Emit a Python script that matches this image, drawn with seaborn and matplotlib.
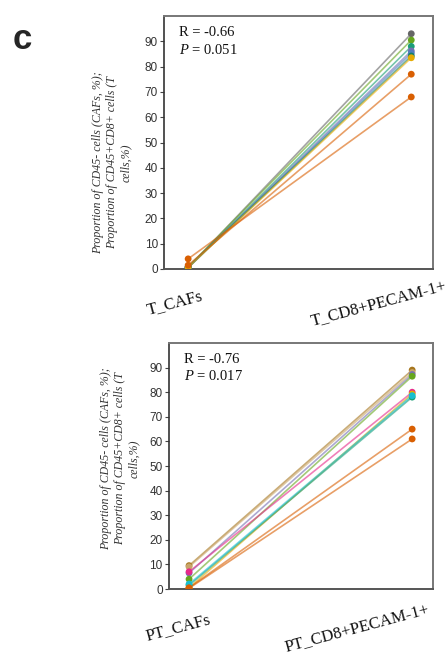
import matplotlib
matplotlib.use("Agg")
import matplotlib.pyplot as plt
import matplotlib.transforms as mtransforms
import seaborn as sns
import pandas as pd

# ---------------- data ----------------
top_groups = ["T_CAFs", "T_CD8+PECAM-1+"]
top_caf = [0.5, 0.8, 0.5, 0.6, 0.5, 0.8, 0.6, 1.5, 4.0]
top_cd8 = [93.0, 90.5, 88.0, 86.2, 85.3, 84.2, 83.5, 77.0, 68.0]
top_colors = ["#666666", "#66a61e", "#1b9e77", "#7570b3", "#4f7fbf",
              "#13806a", "#e6ab02", "#d95f02", "#d95f02"]
top_stats = ["R = -0.66", "$\\it{P}$ = 0.051"]

bot_groups = ["PT_CAFs", "PT_CD8+PECAM-1+"]
bot_caf = [9.5, 9.0, 6.5, 4.0, 7.0, 0.5, 1.5, 2.0, 0.5, 0.3]
bot_cd8 = [89.0, 88.0, 87.2, 86.5, 80.0, 79.3, 78.0, 78.6, 65.0, 61.0]
bot_colors = ["#a6761d", "#c9a46a", "#7570b3", "#66a61e", "#e7298a",
              "#e6ab02", "#1b9e77", "#17becf", "#d95f02", "#d95f02"]
bot_stats = ["R = -0.76", "$\\it{P}$ = 0.017"]

ylabel = "Proportion of CD45- cells (CAFs, %);\nProportion of CD45+CD8+ cells (T\ncells,%)"

sns.set_style("white")
plt.rcParams["font.family"] = ["Liberation Serif", "DejaVu Serif"]
plt.rcParams["mathtext.fontset"] = "custom"
plt.rcParams["mathtext.rm"] = "Liberation Serif"
plt.rcParams["mathtext.it"] = "Liberation Serif:italic"

fig = plt.figure(figsize=(4.47, 6.57), dpi=100)
ax1 = fig.add_axes([0.367, 0.5906, 0.602, 0.385])
ax2 = fig.add_axes([0.378, 0.1035, 0.591, 0.3744])


def make_df(caf, cd8):
    rows = []
    for i, (a, b) in enumerate(zip(caf, cd8)):
        rows.append({"sample": f"s{i}", "x": 0, "value": a})
        rows.append({"sample": f"s{i}", "x": 1, "value": b})
    return pd.DataFrame(rows)


def draw(ax, groups, caf, cd8, colors, stats, xlim, lab_xy, offsets, drop):
    df = make_df(caf, cd8)
    pal = {f"s{i}": c for i, c in enumerate(colors)}
    sns.lineplot(data=df, x="x", y="value", hue="sample", palette=pal,
                 legend=False, alpha=0.6, linewidth=1.2, sort=False,
                 estimator=None, ax=ax)
    sns.scatterplot(data=df, x="x", y="value", hue="sample", palette=pal,
                    legend=False, s=24, edgecolor="none", zorder=3, ax=ax)
    ax.set_xlim(*xlim)
    ax.set_ylim(0, 100)
    ax.set_yticks(range(0, 100, 10))
    ax.set_xticks([0, 1])
    ax.set_xticklabels(["", ""])
    base = mtransforms.blended_transform_factory(ax.transData, ax.transAxes)
    for xpos, lab, off in zip([0, 1], groups, offsets):
        tr = base + mtransforms.ScaledTranslation(off / 100, -drop / 100,
                                                  fig.dpi_scale_trans)
        ax.text(xpos, 0, lab, transform=tr, rotation=15, ha="center",
                va="center", rotation_mode="anchor", fontsize=12,
                color="#111111")
    for lab in ax.get_yticklabels():
        lab.set_family(["Liberation Sans"])
        lab.set_fontsize(8.5)
        lab.set_color("#333333")
    ax.tick_params(axis="y", length=3, width=0.8, color="#444444", pad=1.5,
                   left=True)
    ax.tick_params(axis="x", length=0)
    ax.set_xlabel("")
    ax.set_ylabel(ylabel, fontsize=8.6, style="italic", color="#333333",
                  linespacing=1.2)
    ax.yaxis.set_label_coords(*lab_xy)
    for side in ["top", "right", "bottom"]:
        ax.spines[side].set_color("#777777")
        ax.spines[side].set_linewidth(1.4)
    ax.spines["left"].set_color("#333333")
    ax.spines["left"].set_linewidth(1.2)
    ax.spines["bottom"].set_color("#555555")
    ax.text(0.056, 0.933, stats[0], transform=ax.transAxes, fontsize=10.5,
            va="center", ha="left", color="#111111")
    ax.text(0.056, 0.866, stats[1], transform=ax.transAxes, fontsize=10.5,
            va="center", ha="left", color="#111111")


draw(ax1, top_groups, top_caf, top_cd8, top_colors, top_stats,
     (-0.108, 1.098), (-0.12, 0.42), [-13, -33], 34)
draw(ax2, bot_groups, bot_caf, bot_cd8, bot_colors, bot_stats,
     (-0.09, 1.094), (-0.11, 0.53), [-11, -55], 39)

fig.text(0.05, 0.94, "c", fontsize=25, fontweight="bold",
         family=["Liberation Sans"], ha="center", va="center")

fig.savefig("out.png", dpi=100)
